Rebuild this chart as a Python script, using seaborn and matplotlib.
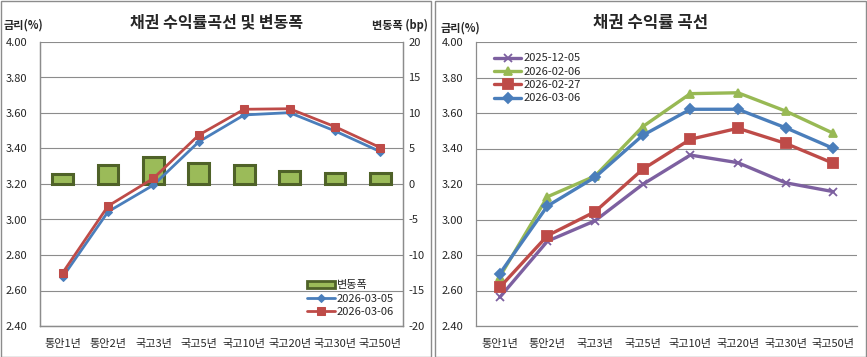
import numpy as np
import pandas as pd
import matplotlib
matplotlib.use('Agg')
import matplotlib.pyplot as plt
from matplotlib.patches import Patch, Rectangle
import seaborn as sns

# ------------------------------------------------------------
# data
# ------------------------------------------------------------
categories = ['통안1년', '통안2년', '국고3년', '국고5년', '국고10년', '국고20년', '국고30년', '국고50년']

# left chart: yields for two days + change (bp)
yld_0305 = [2.676, 3.044, 3.194, 3.438, 3.589, 3.602, 3.499, 3.382]
yld_0306 = [2.700, 3.076, 3.232, 3.476, 3.621, 3.624, 3.523, 3.405]
chg_bp = [1.4, 2.7, 3.8, 3.0, 2.7, 1.8, 1.5, 1.5]

# right chart: yield curves
yld_1205 = [2.562, 2.878, 2.993, 3.198, 3.363, 3.320, 3.207, 3.157]
yld_0206 = [2.678, 3.128, 3.245, 3.523, 3.709, 3.714, 3.611, 3.486]
yld_0227 = [2.618, 2.909, 3.044, 3.283, 3.452, 3.514, 3.429, 3.317]
yld_0306b = [2.695, 3.076, 3.238, 3.474, 3.621, 3.621, 3.517, 3.401]

yield_ticks = [2.40, 2.60, 2.80, 3.00, 3.20, 3.40, 3.60, 3.80, 4.00]
bp_ticks = [-20, -15, -10, -5, 0, 5, 10, 15, 20]

BLUE = '#4A7EBB'
RED = '#BE4B48'
GREEN = '#98B954'
PURPLE = '#7D60A0'
BAR_FACE = '#9BBB59'
BAR_EDGE = '#4F6228'
GRID = '#8C8C8C'

sns.set_theme(style='white')
plt.rcParams['font.family'] = ['Noto Sans CJK KR', 'DejaVu Sans']

W, H = 867, 357
fig = plt.figure(figsize=(W / 100, H / 100), dpi=100)
pos = np.arange(len(categories))


def px_axes(x0, y0, x1, y1):
    # axes box given in pixel coords (top-left origin)
    return fig.add_axes([x0 / W, (H - y1) / H, (x1 - x0) / W, (y1 - y0) / H])


def style_x(ax):
    ax.set_xlim(-0.5, len(categories) - 0.5)
    ax.set_xticks(pos)
    ax.set_xticklabels(categories, fontsize=8)
    ax.set_xticks(np.arange(-0.5, len(categories)), minor=True)
    ax.tick_params(axis='x', which='major', length=0, pad=9)
    ax.tick_params(axis='x', which='minor', length=3, color=GRID, direction='out')
    ax.set_xlabel('')


# panel borders
fig.add_artist(Rectangle((1 / W, 0.5 / H), 430 / W, 355.5 / H, transform=fig.transFigure,
                         fill=False, edgecolor='#8C8C8C', lw=1))
fig.add_artist(Rectangle((435 / W, 0.5 / H), 431 / W, 355.5 / H, transform=fig.transFigure,
                         fill=False, edgecolor='#8C8C8C', lw=1))

# ============================================================
# left: 채권 수익률곡선 및 변동폭
# ============================================================
ax = px_axes(40, 42, 403, 326)
axb = ax.twinx()

sns.barplot(x=pos, y=chg_bp, ax=axb, color=BAR_FACE, width=0.46,
            edgecolor=BAR_EDGE, linewidth=2.2, saturation=1, native_scale=True)
axb.set_ylim(-20, 20)
axb.set_yticks(bp_ticks)
axb.set_yticklabels([str(t) for t in bp_ticks], fontsize=8)
axb.tick_params(axis='y', length=0, pad=4)
axb.yaxis.grid(True, color=GRID, lw=0.8)
axb.set_axisbelow(True)
axb.set_ylabel('')

sns.lineplot(x=pos, y=yld_0305, ax=ax, color=BLUE, lw=2, marker='D', markersize=4.5,
             markeredgecolor=BLUE, label='2026-03-05')
sns.lineplot(x=pos, y=yld_0306, ax=ax, color=RED, lw=2, marker='s', markersize=6,
             markeredgecolor=RED, label='2026-03-06')
ax.set_zorder(axb.get_zorder() + 1)
ax.patch.set_visible(False)
ax.set_ylim(2.40, 4.00)
ax.set_yticks(yield_ticks)
ax.set_yticklabels([f'{t:.2f}' for t in yield_ticks], fontsize=8)
ax.tick_params(axis='y', length=0, pad=9)
style_x(ax)
axb.set_xlim(ax.get_xlim())

for a in (ax, axb):
    for s in a.spines.values():
        s.set_color(GRID)
        s.set_linewidth(0.9)
    a.spines['top'].set_visible(False)

h, l = ax.get_legend_handles_labels()
bar_handle = Patch(facecolor=BAR_FACE, edgecolor=BAR_EDGE, linewidth=2)
ax.legend([bar_handle] + h, ['변동폭'] + l, loc='lower right', bbox_to_anchor=(1.0, 0.0),
          frameon=False, fontsize=8, handlelength=2.5, handletextpad=0.2,
          labelspacing=0.3, borderaxespad=0.4)

fig.text(217 / W, 1 - 22 / H, '채권 수익률곡선 및 변동폭', ha='center', va='center',
         fontsize=11.5, fontweight='bold')
fig.text(4 / W, 1 - 25 / H, '금리(%)', ha='left', va='center', fontsize=8, fontweight='bold')
fig.text(428 / W, 1 - 25 / H, '변동폭 (bp)', ha='right', va='center', fontsize=8,
         fontweight='bold')

# ============================================================
# right: 채권 수익률 곡선
# ============================================================
ax2 = px_axes(476, 42, 857, 326)
curves = [(yld_1205, '2025-12-05', PURPLE, 'x', 6),
          (yld_0206, '2026-02-06', GREEN, '^', 6),
          (yld_0227, '2026-02-27', RED, 's', 7.5),
          (yld_0306b, '2026-03-06', BLUE, 'D', 5.5)]
for vals, lab, col, mk, ms in curves:
    sns.lineplot(x=pos, y=vals, ax=ax2, color=col, lw=2.4, marker=mk, markersize=ms,
                 markeredgecolor=col, markeredgewidth=1.3, label=lab)
ax2.set_ylim(2.40, 4.00)
ax2.set_yticks(yield_ticks)
ax2.set_yticklabels([f'{t:.2f}' for t in yield_ticks], fontsize=8)
ax2.tick_params(axis='y', length=0, pad=9)
ax2.yaxis.grid(True, color=GRID, lw=0.8)
ax2.set_axisbelow(True)
style_x(ax2)
for s in ax2.spines.values():
    s.set_color(GRID)
    s.set_linewidth(0.9)
ax2.spines['top'].set_visible(False)
ax2.spines['right'].set_visible(False)
ax2.legend(loc='upper left', bbox_to_anchor=(0.02, 0.995), frameon=False, fontsize=8,
           handlelength=2.5, handletextpad=0.2, labelspacing=0.3)

fig.text(651 / W, 1 - 23 / H, '채권 수익률 곡선', ha='center', va='center',
         fontsize=12, fontweight='bold')
fig.text(441 / W, 1 - 28 / H, '금리(%)', ha='left', va='center', fontsize=8, fontweight='bold')

fig.savefig('out.png', dpi=100)
